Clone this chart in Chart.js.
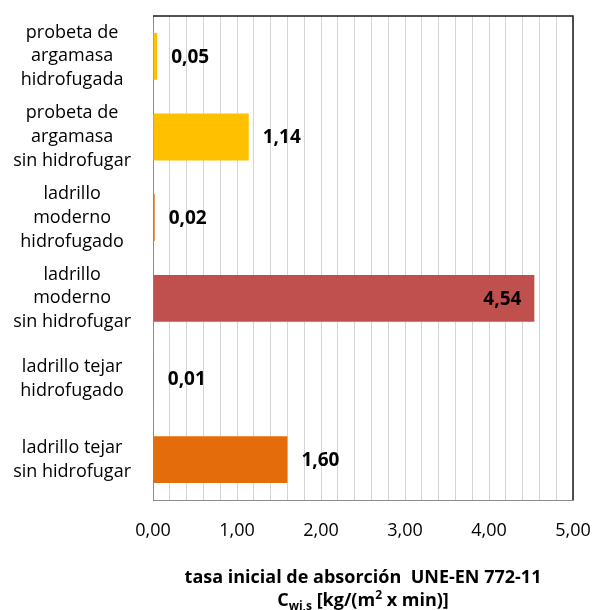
<!DOCTYPE html>
<html>
<head>
<meta charset="utf-8">
<script src="https://cdn.jsdelivr.net/npm/chart.js@4.4.1/dist/chart.umd.min.js"></script>
<style>
  html, body { margin: 0; padding: 0; background: #fff; }
  #wrap { width: 592px; height: 610px; }
</style>
</head>
<body>
<div id="wrap"><canvas id="chart" width="592" height="610"></canvas></div>
<script>
const categories = [
  ["probeta de", "argamasa", "hidrofugada"],
  ["probeta de", "argamasa", "sin hidrofugar"],
  ["ladrillo", "moderno", "hidrofugado"],
  ["ladrillo", "moderno", "sin hidrofugar"],
  ["ladrillo tejar", "hidrofugado"],
  ["ladrillo tejar", "sin hidrofugar"]
];
const values = [0.05, 1.14, 0.02, 4.54, 0.01, 1.60];
const barColors = ["#FFC000", "#FFC000", "#E46C0A", "#C0504D", "#E46C0A", "#E46C0A"];
const xMin = 0, xMax = 5, xStep = 0.2;

const FONT = "'Open Sans', Lato, sans-serif";
const fmt = (v) => v.toFixed(2).replace(".", ",");

// etiquetas de valor al final de cada barra
const valueLabels = {
  id: "valueLabels",
  afterDatasetsDraw(chart) {
    const ctx = chart.ctx;
    const meta = chart.getDatasetMeta(0);
    const area = chart.chartArea;
    ctx.save();
    ctx.font = "bold 19px " + FONT;
    ctx.fillStyle = "#000";
    ctx.textBaseline = "middle";
    meta.data.forEach((bar, i) => {
      const inside = bar.x > area.left + (area.right - area.left) * 0.85;
      if (inside) {
        ctx.textAlign = "right";
        ctx.fillText(fmt(values[i]), bar.x - 13, bar.y + 1);
      } else {
        ctx.textAlign = "left";
        ctx.fillText(fmt(values[i]), bar.x + 14, bar.y + 1);
      }
    });
    ctx.restore();
  }
};

// borde superior/derecho y título del eje con subíndice y superíndice
const frameAndTitle = {
  id: "frameAndTitle",
  afterDraw(chart) {
    const ctx = chart.ctx;
    const a = chart.chartArea;
    ctx.save();
    ctx.strokeStyle = "#1a1a1a";
    ctx.lineWidth = 1.5;
    ctx.beginPath();
    ctx.moveTo(a.left, a.top);
    ctx.lineTo(a.right, a.top);
    ctx.lineTo(a.right, a.bottom);
    ctx.stroke();

    const cx = (a.left + a.right) / 2;
    ctx.fillStyle = "#000";
    ctx.textBaseline = "alphabetic";
    ctx.textAlign = "center";
    ctx.font = "bold 18px " + FONT;
    ctx.fillText("tasa inicial de absorción  UNE-EN 772-11", cx, a.bottom + 83);

    const parts = [
      { t: "C", size: 18, dy: 0 },
      { t: "wi,s", size: 12, dy: 4 },
      { t: " [kg/(m", size: 18, dy: 0 },
      { t: "2", size: 12, dy: -7 },
      { t: " x min)]", size: 18, dy: 0 }
    ];
    let total = 0;
    parts.forEach(p => { ctx.font = "bold " + p.size + "px " + FONT; p.w = ctx.measureText(p.t).width; total += p.w; });
    let x = cx - total / 2;
    ctx.textAlign = "left";
    const base = a.bottom + 106;
    parts.forEach(p => {
      ctx.font = "bold " + p.size + "px " + FONT;
      ctx.fillText(p.t, x, base + p.dy);
      x += p.w;
    });
    ctx.restore();
  }
};

new Chart(document.getElementById("chart"), {
  type: "bar",
  data: {
    labels: categories,
    datasets: [{
      data: values,
      backgroundColor: barColors,
      borderWidth: 0,
      categoryPercentage: 0.58,
      barPercentage: 1
    }]
  },
  plugins: [valueLabels, frameAndTitle],
  options: {
    indexAxis: "y",
    responsive: false,
    animation: false,
    layout: { padding: { top: 16, right: 19, left: 0, bottom: 0 } },
    plugins: {
      legend: { display: false },
      tooltip: { enabled: false }
    },
    scales: {
      x: {
        min: xMin,
        max: xMax,
        afterFit: (s) => { s.height = 110; s.paddingLeft = 0; s.paddingRight = 0; },
        afterBuildTicks: (s) => {
          const t = [];
          for (let i = 0; i <= Math.round((xMax - xMin) / xStep); i++) t.push({ value: xMin + i * xStep });
          s.ticks = t;
        },
        grid: { color: "#d4d4d4", lineWidth: 1, drawTicks: false },
        border: { color: "#8c8c8c" },
        ticks: {
          autoSkip: false,
          maxRotation: 0,
          padding: 20,
          color: "#000",
          font: { family: FONT, size: 18 },
          callback: (v) => Math.abs(v - Math.round(v)) < 1e-6 ? fmt(Math.round(v)) : ""
        }
      },
      y: {
        afterFit: (s) => { s.width = 153; s.paddingTop = 0; s.paddingBottom = 0; },
        grid: { display: false, drawTicks: false },
        border: { color: "#8c8c8c" },
        ticks: {
          crossAlign: "center",
          padding: 22,
          color: "#000",
          font: { family: FONT, size: 18, lineHeight: 1.33 }
        }
      }
    }
  }
});
</script>
</body>
</html>
